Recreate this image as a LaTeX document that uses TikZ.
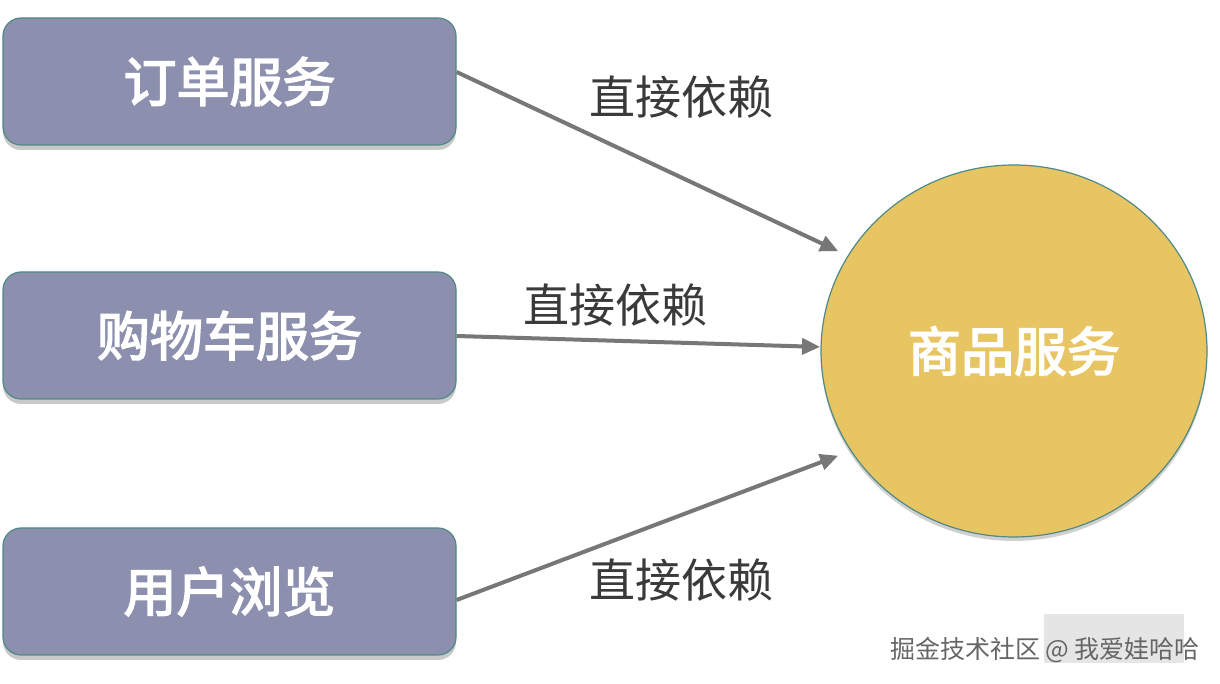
\documentclass[tikz,border=0pt]{standalone}
\usepackage{fontspec}
\newfontfamily\cjk{Noto Sans CJK SC}
\newfontfamily\cjkm{Noto Sans CJK SC}[FakeBold=3]
\usetikzlibrary{shadows,arrows.meta,shapes.geometric}
\definecolor{boxfill}{HTML}{8C8FAD}
\definecolor{boxline}{HTML}{4E8A86}
\definecolor{circfill}{HTML}{E8C563}
\definecolor{arrowc}{HTML}{777777}
\definecolor{labc}{HTML}{3A3A3A}
\tikzset{
  svc/.style={draw=boxline, line width=1.2pt, fill=boxfill, rounded corners=18pt,
    minimum width=453pt, minimum height=127pt, inner sep=0pt,
    text=white, font=\cjkm\fontsize{53}{62}\selectfont,
    drop shadow={shadow xshift=0pt, shadow yshift=-5pt, opacity=0.35, fill=black!60}},
  dep/.style={draw=arrowc, line width=4pt, -{Triangle[length=18pt,width=16pt]}, shorten >=2pt},
  lab/.style={text=labc, font=\cjk\fontsize{46}{54}\selectfont, inner sep=0pt},
}
\begin{document}
\begin{tikzpicture}[x=1pt,y=1pt]
\path[use as bounding box, fill=white] (0,0) rectangle (1220,684);
\node[svc] (a) at (229.5,602.5) {订单服务};
\node[svc] (b) at (229.5,348.5) {购物车服务};
\node[svc] (c) at (229.5,92.5) {用户浏览};
\node[draw=boxline, line width=1.2pt, fill=circfill, ellipse, minimum width=386pt, minimum height=372pt, inner sep=0pt,
  text=white, font=\cjkm\fontsize{53}{62}\selectfont,
  drop shadow={shadow xshift=0pt, shadow yshift=-4pt, opacity=0.3, fill=black!60}] (g) at (1014,333) {商品服务};
\coordinate (ta) at (840,432);
\coordinate (tb) at (822,337);
\coordinate (tc) at (840,229);
\draw[dep] (a.east |- 0,612) -- (ta);
\draw[dep] (b.east |- 0,348) -- (tb);
\draw[dep] (c.east |- 0,84) -- (tc);
\node[lab] (la) at (681,587) {直接依赖};
\node[lab] (lb) at (615,379) {直接依赖};
\node[lab] (lc) at (681,104) {直接依赖};
\fill[black!10] (1044,21) rectangle (1184,70);
\node[text=black!60, font=\cjk\fontsize{25}{30}\selectfont, inner sep=0pt] (wm) at (1045,34) {掘金技术社区 @ 我爱娃哈哈};
\end{tikzpicture}
\end{document}
